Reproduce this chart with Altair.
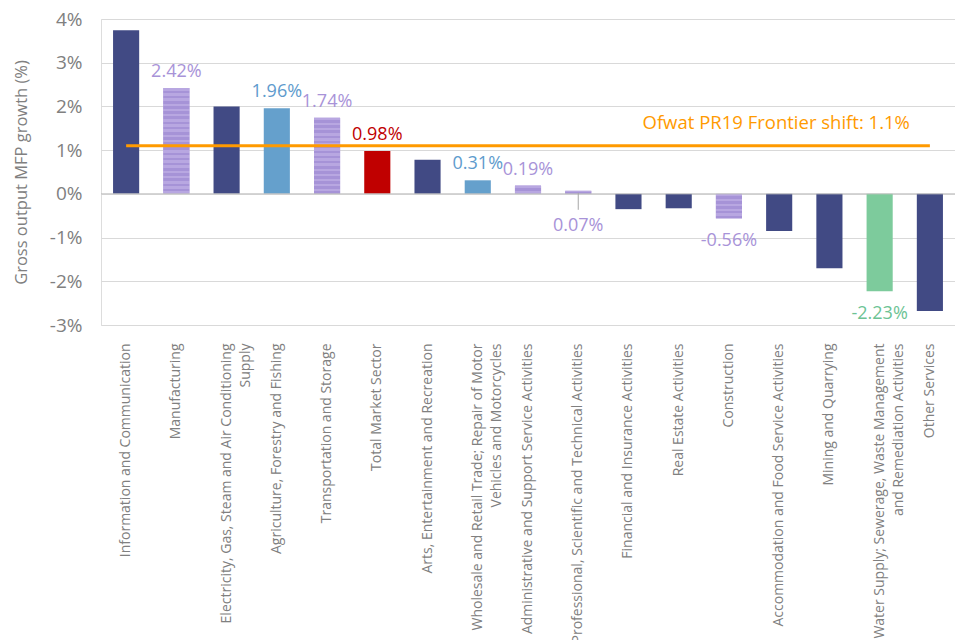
import altair as alt
import pandas as pd

categories = [
    "Information and Communication",
    "Manufacturing",
    "Electricity, Gas, Steam and Air Conditioning\nSupply",
    "Agriculture, Forestry and Fishing",
    "Transportation and Storage",
    "Total Market Sector",
    "Arts, Entertainment and Recreation",
    "Wholesale and Retail Trade; Repair of Motor\nVehicles and Motorcycles",
    "Administrative and Support Service Activities",
    "Professional, Scientific and Technical Activities",
    "Financial and Insurance Activities",
    "Real Estate Activities",
    "Construction",
    "Accommodation and Food Service Activities",
    "Mining and Quarrying",
    "Water Supply; Sewerage, Waste Management\nand Remediation Activities",
    "Other Services",
]
values = [3.74, 2.42, 2.00, 1.96, 1.74, 0.98, 0.78, 0.31, 0.19, 0.07,
          -0.35, -0.33, -0.56, -0.85, -1.70, -2.23, -2.68]
groups = ["industry", "sector_a", "industry", "sector_b", "sector_a", "total",
          "industry", "sector_b", "sector_a", "sector_a", "industry", "industry",
          "sector_a", "industry", "industry", "water", "industry"]
labelled = [False, True, False, True, True, True, False, True, True, True,
            False, False, True, False, False, True, False]
frontier = 1.1
frontier_label = "Ofwat PR19 Frontier shift: 1.1%"
y_ticks = [-3, -2, -1, 0, 1, 2, 3, 4]

df = pd.DataFrame({"cat": categories, "value": values, "group": groups, "show": labelled})

FONT = "Open Sans"
GRAY = "#808080"
ORANGE = "#FF9A00"
group_domain = ["industry", "sector_a", "sector_b", "total", "water"]
bar_colors = ["#414A84", "#B09DDC", "#65A0CC", "#C00000", "#7DCB9C"]
label_colors = ["#414A84", "#A893D8", "#5E9BCD", "#C00000", "#6CC394"]
STRIPE_LIGHT = "#B8A7E1"
STRIPE_DARK = "#A693D7"
PROF = "Professional, Scientific and Technical Activities"

xenc = alt.X(
    "cat:N", sort=categories, title=None,
    scale=alt.Scale(paddingInner=0.48, paddingOuter=0.24),
    axis=alt.Axis(labelAngle=270, labelAlign="right", labelBaseline="middle",
                  labelExpr="split(datum.label, '\\n')", labelPadding=18,
                  labelLimit=400, labelFontSize=14, labelLineHeight=19,
                  labelColor=GRAY, labelFont=FONT, ticks=False, domain=False,
                  grid=False),
)
yenc = alt.Y(
    "value:Q", title="Gross output MFP growth (%)",
    scale=alt.Scale(domain=[-3, 4], nice=False, zero=False),
    axis=alt.Axis(values=y_ticks, labelExpr="datum.value + '%'", labelFontSize=19,
                  labelColor=GRAY, labelFont=FONT, labelPadding=19, ticks=False,
                  domain=False, grid=True, gridColor="#D9D9D9", titleFontSize=16.5,
                  titleColor=GRAY, titleFont=FONT, titleFontWeight="normal",
                  titlePadding=20),
)

base = alt.Chart(df)

bars = base.mark_bar().encode(
    x=xenc, y=yenc,
    fill=alt.Fill("group:N", scale=alt.Scale(domain=group_domain, range=bar_colors), legend=None),
)


def stripe_fill(n):
    stops = []
    for k in range(n):
        c = STRIPE_LIGHT if k % 2 == 0 else STRIPE_DARK
        stops.append({"offset": k / n, "color": c})
        stops.append({"offset": (k + 1) / n, "color": c})
    return {"gradient": "linear", "x1": 0, "y1": 0, "x2": 0, "y2": 1, "stops": stops}


stripe_layers = []
for c, v, g in zip(categories, values, groups):
    if g == "sector_a":
        n = max(2, round(abs(v) * 17))
        stripe_layers.append(
            base.transform_filter(alt.FieldEqualPredicate(field="cat", equal=c))
            .mark_bar(fill=stripe_fill(n))
            .encode(x=xenc, y=yenc)
        )

zero_line = alt.Chart(pd.DataFrame({"z": [0]})).mark_rule(color="#BFBFBF", strokeWidth=1).encode(
    y=alt.datum(0)
)

label_calc = "(datum.value < 0 ? '-' : '') + format(abs(datum.value), '.2f') + '%'"
label_color = alt.Color("group:N", scale=alt.Scale(domain=group_domain, range=label_colors), legend=None)

pos_labels = (
    base.transform_filter((alt.datum.show == True) & (alt.datum.value >= 0) & (alt.datum.cat != PROF))
    .transform_calculate(label=label_calc)
    .mark_text(baseline="alphabetic", dy=-11, fontSize=18, font=FONT)
    .encode(x=xenc, y=yenc, text="label:N", color=label_color)
)
neg_labels = (
    base.transform_filter((alt.datum.show == True) & (alt.datum.value < 0))
    .transform_calculate(label=label_calc)
    .mark_text(baseline="alphabetic", dy=28, fontSize=18, font=FONT)
    .encode(x=xenc, y=yenc, text="label:N", color=label_color)
)
prof_label = (
    base.transform_filter(alt.datum.cat == PROF)
    .transform_calculate(label=label_calc)
    .mark_text(baseline="alphabetic", dy=40, fontSize=18, font=FONT)
    .encode(x=xenc, y=yenc, text="label:N", color=label_color)
)
prof_leader = (
    base.transform_filter(alt.datum.cat == PROF)
    .mark_rule(color="#A6A6A6", strokeWidth=1, yOffset=2, y2Offset=19)
    .encode(x=xenc, y=yenc, y2="value:Q")
)

fdf = pd.DataFrame({"label": [frontier_label]})
frontier_rule = alt.Chart(fdf).mark_rule(color=ORANGE, strokeWidth=3).encode(
    x=alt.datum(categories[0]), x2=alt.datum(categories[-1]), y=alt.datum(frontier)
)
frontier_text = alt.Chart(fdf).mark_text(
    align="right", baseline="alphabetic", dx=-20, dy=-17, fontSize=18.5, font=FONT, color=ORANGE
).encode(x=alt.datum(categories[-1]), y=alt.datum(frontier), text="label:N")

chart = alt.layer(
    bars, *stripe_layers, zero_line, frontier_rule, frontier_text,
    pos_labels, neg_labels, prof_leader, prof_label
).properties(
    width=854, height=306,
    autosize=alt.AutoSizeParams(type="none"),
    padding={"left": 93, "top": 11, "right": 0, "bottom": 315},
).configure_view(stroke=None).configure(background="white")

chart.save("out.html", embed_options={"renderer": "svg", "actions": False})
